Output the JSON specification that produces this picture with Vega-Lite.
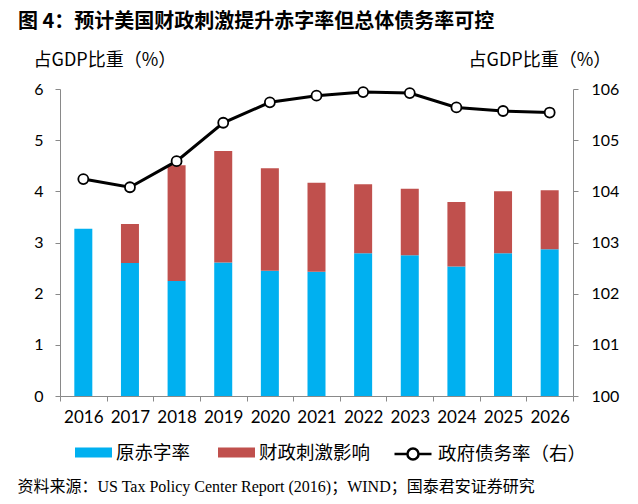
{
  "$schema": "https://vega.github.io/schema/vega-lite/v6.json",
  "width": 513,
  "height": 307,
  "autosize": "none",
  "padding": {"left": 60, "top": 89, "right": 65, "bottom": 108},
  "background": "white",
  "title": {
    "text": "图 4：预计美国财政刺激提升赤字率但总体债务率可控",
    "anchor": "start",
    "frame": "group",
    "dx": -42,
    "offset": 19,
    "font": "Noto Sans CJK SC",
    "fontSize": 20,
    "fontWeight": "bold",
    "color": "black"
  },
  "datasets": {
    "bars": [
      {"year": "2016", "type": "原赤字率", "value": 3.27},
      {"year": "2017", "type": "原赤字率", "value": 2.60},
      {"year": "2018", "type": "原赤字率", "value": 2.25},
      {"year": "2019", "type": "原赤字率", "value": 2.61},
      {"year": "2020", "type": "原赤字率", "value": 2.45},
      {"year": "2021", "type": "原赤字率", "value": 2.43},
      {"year": "2022", "type": "原赤字率", "value": 2.79},
      {"year": "2023", "type": "原赤字率", "value": 2.75},
      {"year": "2024", "type": "原赤字率", "value": 2.53},
      {"year": "2025", "type": "原赤字率", "value": 2.79},
      {"year": "2026", "type": "原赤字率", "value": 2.87},
      {"year": "2017", "type": "财政刺激影响", "value": 0.76},
      {"year": "2018", "type": "财政刺激影响", "value": 2.26},
      {"year": "2019", "type": "财政刺激影响", "value": 2.18},
      {"year": "2020", "type": "财政刺激影响", "value": 2.00},
      {"year": "2021", "type": "财政刺激影响", "value": 1.74},
      {"year": "2022", "type": "财政刺激影响", "value": 1.35},
      {"year": "2023", "type": "财政刺激影响", "value": 1.30},
      {"year": "2024", "type": "财政刺激影响", "value": 1.26},
      {"year": "2025", "type": "财政刺激影响", "value": 1.21},
      {"year": "2026", "type": "财政刺激影响", "value": 1.15}
    ],
    "debt": [
      {"year": "2016", "debt": 104.24},
      {"year": "2017", "debt": 104.08},
      {"year": "2018", "debt": 104.59},
      {"year": "2019", "debt": 105.34},
      {"year": "2020", "debt": 105.74},
      {"year": "2021", "debt": 105.87},
      {"year": "2022", "debt": 105.94},
      {"year": "2023", "debt": 105.92},
      {"year": "2024", "debt": 105.64},
      {"year": "2025", "debt": 105.57},
      {"year": "2026", "debt": 105.54}
    ]
  },
  "layer": [
    {
      "data": {"name": "bars"},
      "mark": {"type": "bar", "width": {"band": 0.386}},
      "encoding": {
        "x": {
          "field": "year",
          "type": "ordinal",
          "scale": {"paddingInner": 0, "paddingOuter": 0},
          "axis": {
            "labelAngle": 0,
            "labelFont": "Lato",
            "labelFontSize": 17,
            "labelColor": "black",
            "labelPadding": 8,
            "domainColor": "#898989",
            "tickColor": "#898989",
            "tickSize": 5,
            "tickBand": "extent",
            "title": "资料来源：US Tax Policy Center Report (2016)；WIND；国泰君安证券研究",
            "titleFont": "Liberation Serif, Noto Sans CJK SC",
            "titleFontSize": 16,
            "titleFontWeight": "normal",
            "titleColor": "black",
            "titleAnchor": "start",
            "titleAlign": "left",
            "titleBaseline": "middle",
            "titleX": -43,
            "titleY": 90
          }
        },
        "y": {
          "field": "value",
          "type": "quantitative",
          "stack": "zero",
          "scale": {"domain": [0, 6], "nice": false},
          "axis": {
            "values": [0, 1, 2, 3, 4, 5, 6],
            "grid": false,
            "labelFont": "Lato",
            "labelFontSize": 16,
            "labelColor": "black",
            "labelPadding": 12,
            "domainColor": "#898989",
            "tickColor": "#898989",
            "tickSize": 5,
            "title": "占GDP比重（%）",
            "titleFont": "Noto Sans CJK SC",
            "titleFontSize": 18,
            "titleFontWeight": "normal",
            "titleColor": "black",
            "titleAngle": 0,
            "titleAlign": "left",
            "titleBaseline": "middle",
            "titleX": -27,
            "titleY": -29
          }
        },
        "color": {
          "field": "type",
          "type": "nominal",
          "scale": {"domain": ["原赤字率", "财政刺激影响"], "range": ["#00B0F0", "#C0504D"]},
          "legend": {
            "title": null,
            "orient": "none",
            "legendX": 15,
            "legendY": 345,
            "direction": "horizontal",
            "symbolType": "M-1,-0.27H1V0.27H-1Z",
            "symbolSize": 1369,
            "symbolStrokeWidth": 0,
            "labelOffset": 4,
            "columnPadding": 27,
            "labelFont": "Noto Sans CJK SC",
            "labelFontSize": 18.5,
            "labelColor": "black",
            "labelLimit": 300
          }
        },
        "order": {"field": "type", "sort": "ascending"}
      }
    },
    {
      "data": {"name": "debt"},
      "mark": {
        "type": "line",
        "strokeWidth": 3,
        "point": {"filled": true, "fill": "white", "stroke": "black", "strokeWidth": 1.8, "size": 100}
      },
      "encoding": {
        "x": {"field": "year", "type": "ordinal"},
        "y": {
          "field": "debt",
          "type": "quantitative",
          "scale": {"domain": [100, 106], "nice": false},
          "axis": {
            "orient": "right",
            "values": [100, 101, 102, 103, 104, 105, 106],
            "grid": false,
            "labelFont": "Lato",
            "labelFontSize": 16,
            "labelColor": "black",
            "labelPadding": 13,
            "domainColor": "#898989",
            "tickColor": "#898989",
            "tickSize": 5,
            "title": "占GDP比重（%）",
            "titleFont": "Noto Sans CJK SC",
            "titleFontSize": 18,
            "titleFontWeight": "normal",
            "titleColor": "black",
            "titleAngle": 0,
            "titleAlign": "left",
            "titleBaseline": "middle",
            "titleX": -105,
            "titleY": -29
          }
        },
        "stroke": {
          "datum": "政府债务率（右）",
          "scale": {"range": ["black"]},
          "legend": {
            "title": null,
            "orient": "none",
            "legendX": 333,
            "legendY": 345,
            "symbolType": "M-1,0L-0.3,0M0.3,0L1,0M0.3,0A0.3,0.3,0,1,1,-0.3,0A0.3,0.3,0,1,1,0.3,0",
            "symbolSize": 1369,
            "symbolStrokeWidth": 2.5,
            "symbolFillColor": "white",
            "symbolStrokeColor": "black",
            "labelOffset": 5,
            "labelFont": "Noto Sans CJK SC",
            "labelFontSize": 18.5,
            "labelColor": "black",
            "labelLimit": 300
          }
        }
      }
    }
  ],
  "resolve": {"scale": {"y": "independent"}},
  "config": {"view": {"stroke": null}}
}
